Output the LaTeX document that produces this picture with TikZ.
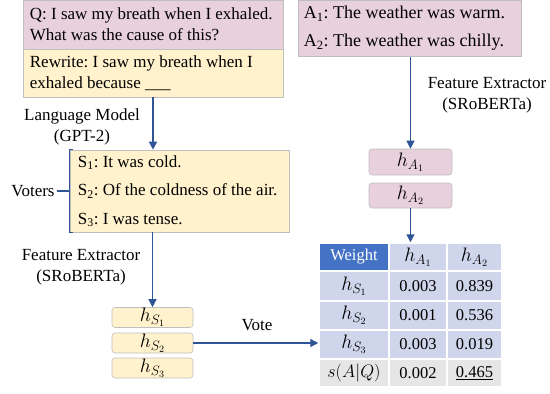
\documentclass[tikz,border=0pt]{standalone}
\usepackage{fix-cm}
\usepackage{fontspec}
\setmainfont{Liberation Serif}
\usetikzlibrary{arrows.meta}
\definecolor{pinkf}{HTML}{E8D0DC}
\definecolor{yellowf}{HTML}{FFF2CC}
\definecolor{boxline}{HTML}{BFBFBF}
\definecolor{arrowblue}{HTML}{2F5597}
\definecolor{hdrblue}{HTML}{4472C4}
\definecolor{cellblue}{HTML}{CFD5EA}
\definecolor{cellgray}{HTML}{E7E6E6}
\frenchspacing
\begin{document}
\begin{tikzpicture}[x=1pt,y=-1pt,
  every node/.style={font=\fontsize{17}{21}\selectfont, inner sep=0pt},
  box/.style={draw=boxline, line width=0.6pt},
  hbox/.style={draw=boxline, line width=0.6pt, rounded corners=3pt, font=\fontsize{19.5}{22}\selectfont},
  txt/.style={anchor=west, align=left},
  arr/.style={draw=arrowblue, line width=1.4pt, -{Triangle[length=8pt,width=8pt]}},
  ln/.style={draw=arrowblue, line width=1.4pt},
  cell/.style={draw=white, line width=1.5pt, fill=cellblue, font=\fontsize{16.5}{20}\selectfont},
  mth/.style={font=\fontsize{19.5}{22}\selectfont},
  c1/.style={cell, minimum width=70pt},
  c2/.style={cell, minimum width=58pt},
  c3/.style={cell, minimum width=55pt}
]
\useasboundingbox (0,0) rectangle (550,394);

% Question / rewrite box
\node[box, fill=pinkf, minimum width=260pt, minimum height=49pt] (q) at (153,24.5) {};
\node[txt] (qt) at ([xshift=7pt]q.west) {Q: I saw my breath when I exhaled.\\What was the cause of this?};
\node[box, fill=yellowf, minimum width=260pt, minimum height=48pt] (rw) at (153,73) {};
\node[txt] (rwt) at ([xshift=7pt]rw.west) {Rewrite: I saw my breath when I\\exhaled because \_\_\_};

% Answer box
\node[box, fill=pinkf, minimum width=223pt, minimum height=56pt] (a) at (409.5,28.5) {};
\node[txt, font=\fontsize{18}{28}\selectfont] (at) at ([xshift=6pt]a.west)
  {A\textsubscript{1}: The weather was warm.\\A\textsubscript{2}: The weather was chilly.};

% Voters box
\node[box, fill=yellowf, minimum width=219pt, minimum height=82pt] (s) at (179.5,191) {};
\node[txt, font=\fontsize{17}{28.5}\selectfont] (st) at ([xshift=8pt]s.west)
  {S\textsubscript{1}: It was cold.\\S\textsubscript{2}: Of the coldness of the air.\\S\textsubscript{3}: I was tense.};
\draw[ln] ([xshift=3pt]s.north west) -- (s.north west) -- (s.south west) -- ([xshift=3pt]s.south west);
\node (voters) at (33,191) {Voters};
\draw[ln] ([xshift=2pt]voters.east) -- (s.west);

% Labels
\node[align=center] (lm) at (82,127) {Language Model\\(GPT-2)};
\node[align=center] (fe1) at (81,267.5) {Feature Extractor\\(SRoBERTa)};
\node[align=center] (fe2) at (487,95) {Feature Extractor\\(SRoBERTa)};
\node (vote) at (257,325) {Vote};

% Sentence embeddings
\node[hbox, fill=yellowf, minimum width=81pt, minimum height=20pt] (hs1) at (152.5,317.5) {$h_{S_1}$};
\node[hbox, fill=yellowf, minimum width=81pt, minimum height=20pt] (hs2) at (152.5,343) {$h_{S_2}$};
\node[hbox, fill=yellowf, minimum width=81pt, minimum height=20pt] (hs3) at (152.5,368) {$h_{S_3}$};

% Answer embeddings
\node[hbox, fill=pinkf, minimum width=83pt, minimum height=26pt] (ha1) at (410.5,162) {$h_{A_1}$};
\node[hbox, fill=pinkf, minimum width=83pt, minimum height=25pt] (ha2) at (410.5,195.5) {$h_{A_2}$};

% Table
\node[c1, fill=hdrblue, text=white, minimum height=28pt] (t01) at (354,257) {Weight};
\node[c2, mth, minimum height=28pt] (t02) at (418,257) {$h_{A_1}$};
\node[c3, mth, minimum height=28pt] (t03) at (474.5,257) {$h_{A_2}$};
\node[c1, mth, minimum height=30pt] (t11) at (354,286) {$h_{S_1}$};
\node[c2, minimum height=30pt] (t12) at (418,286) {0.003};
\node[c3, minimum height=30pt] (t13) at (474.5,286) {0.839};
\node[c1, mth, minimum height=29pt] (t21) at (354,315.5) {$h_{S_2}$};
\node[c2, minimum height=29pt] (t22) at (418,315.5) {0.001};
\node[c3, minimum height=29pt] (t23) at (474.5,315.5) {0.536};
\node[c1, mth, minimum height=29pt] (t31) at (354,344.5) {$h_{S_3}$};
\node[c2, minimum height=29pt] (t32) at (418,344.5) {0.003};
\node[c3, minimum height=29pt] (t33) at (474.5,344.5) {0.019};
\node[c1, fill=cellgray, font=\fontsize{18}{22}\selectfont, minimum height=28pt] (t41) at (354,373) {$s(A|Q)$};
\node[c2, fill=cellgray, minimum height=28pt] (t42) at (418,373) {0.002};
\node[c3, fill=cellgray, minimum height=28pt] (t43) at (474.5,373) {\underline{0.465}};

% Connectors
\draw[arr] (rw.south) -- (rw.south |- s.north);
\draw[arr] (hs1.north |- s.south) -- (hs1.north);
\draw[arr] (ha1.north |- a.south) -- (ha1.north);
\draw[arr] (ha2.south) -- (ha2.south |- t02.north);
\draw[arr] (hs2.east) -- (hs2.east -| t31.west);
\end{tikzpicture}
\end{document}
